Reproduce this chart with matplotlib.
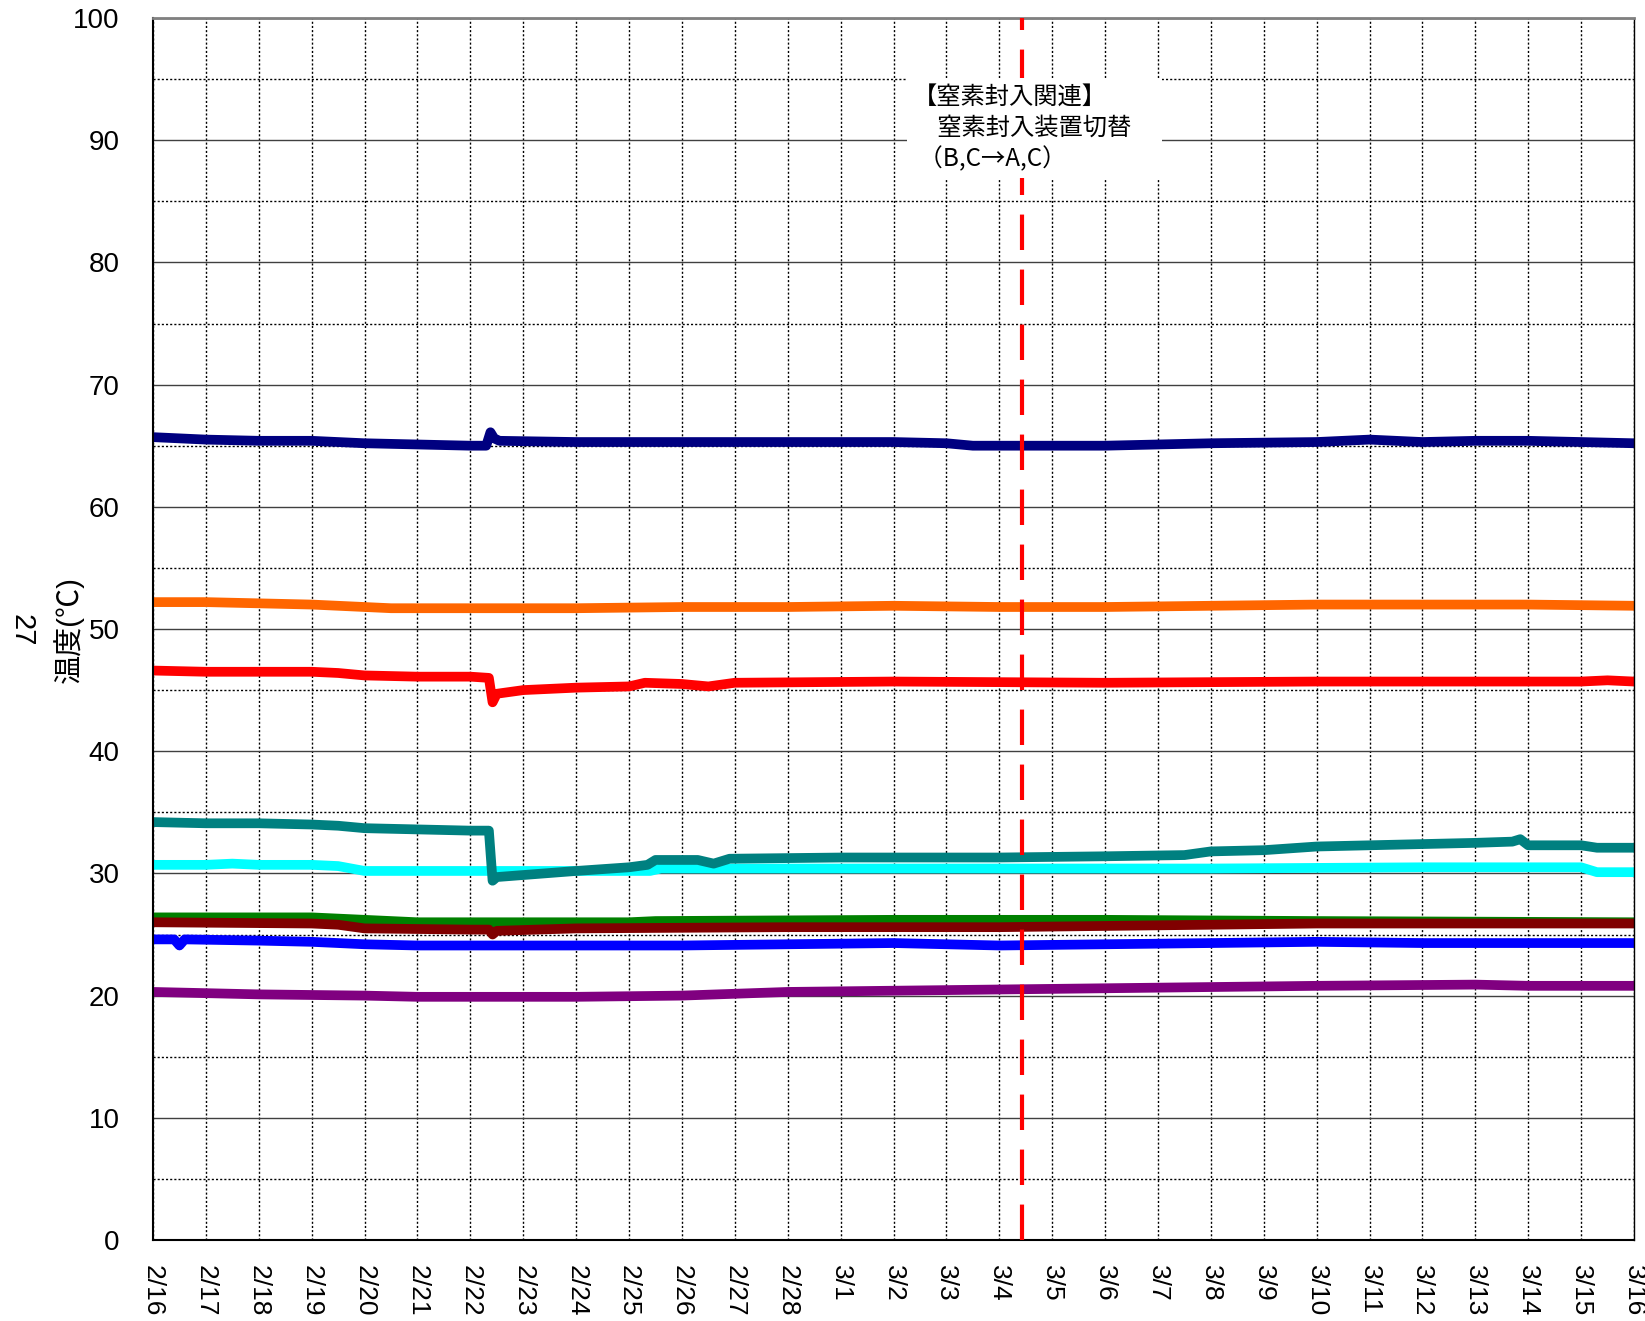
import matplotlib
matplotlib.use('Agg')
import matplotlib.pyplot as plt

plt.rcParams['font.family'] = ['Liberation Sans', 'Noto Sans CJK JP']

# x = days since 2/16
day_labels = ['2/16', '2/17', '2/18', '2/19', '2/20', '2/21', '2/22', '2/23', '2/24',
              '2/25', '2/26', '2/27', '2/28', '3/1', '3/2', '3/3', '3/4', '3/5', '3/6',
              '3/7', '3/8', '3/9', '3/10', '3/11', '3/12', '3/13', '3/14', '3/15', '3/16']

navy_x = [0, 1, 2, 3, 4, 5, 6, 6.3, 6.38, 6.45, 6.55, 8, 10, 12, 14, 15, 15.5, 17, 18, 20, 22, 23, 24, 25, 26, 27, 28]
navy_y = [65.7, 65.5, 65.4, 65.4, 65.2, 65.1, 65.0, 65.0, 66.1, 65.6, 65.4, 65.3, 65.3, 65.3, 65.3, 65.2,
          65.0, 65.0, 65.0, 65.2, 65.3, 65.5, 65.3, 65.4, 65.4, 65.3, 65.2]

orange_x = [0, 1, 2, 3, 4, 4.5, 6, 8, 10, 12, 14, 16, 18, 20, 22, 24, 26, 28]
orange_y = [52.2, 52.2, 52.1, 52.0, 51.8, 51.7, 51.7, 51.7, 51.8, 51.8, 51.9, 51.8, 51.8, 51.9, 52.0, 52.0, 52.0, 51.9]

red_x = [0, 1, 2, 3, 3.5, 4, 5, 6, 6.35, 6.42, 6.5, 7, 8, 9, 9.3, 10, 10.5, 11, 14, 18, 22, 26, 27, 27.5, 28]
red_y = [46.6, 46.5, 46.5, 46.5, 46.4, 46.2, 46.1, 46.1, 46.0, 44.0, 44.7, 45.0, 45.2, 45.3, 45.6, 45.5,
         45.3, 45.6, 45.7, 45.6, 45.7, 45.7, 45.7, 45.8, 45.7]

teal_x = [0, 1, 2, 3, 3.5, 4, 5, 6, 6.35, 6.42, 6.5, 8, 9, 9.35, 9.5, 10.3, 10.6, 10.9, 13, 16, 18, 19.5,
          20, 21, 22, 23, 25, 25.7, 25.85, 26, 27, 27.3, 28]
teal_y = [34.2, 34.1, 34.1, 34.0, 33.9, 33.7, 33.6, 33.5, 33.5, 29.4, 29.7, 30.2, 30.5, 30.7, 31.1, 31.1,
          30.8, 31.2, 31.3, 31.3, 31.4, 31.5, 31.8, 31.9, 32.2, 32.3, 32.5, 32.6, 32.8, 32.3, 32.3, 32.1, 32.1]

cyan_x = [0, 1, 1.5, 2, 3, 3.5, 4, 5, 6, 8, 9.4, 9.6, 12, 16, 20, 24, 26, 27, 27.3, 28]
cyan_y = [30.7, 30.7, 30.8, 30.7, 30.7, 30.6, 30.2, 30.2, 30.2, 30.2, 30.2, 30.4, 30.4, 30.4, 30.4,
          30.5, 30.5, 30.5, 30.1, 30.1]

green_x = [0, 3, 4, 5, 9, 9.5, 14, 18, 22, 28]
green_y = [26.4, 26.4, 26.2, 26.0, 26.0, 26.1, 26.2, 26.2, 26.1, 26.0]

maroon_x = [0, 3, 3.5, 4, 6, 6.35, 6.42, 6.5, 8, 12, 16, 18, 20, 22, 28]
maroon_y = [26.0, 25.9, 25.8, 25.5, 25.4, 25.4, 25.0, 25.3, 25.5, 25.6, 25.6, 25.7, 25.8, 25.9, 25.9]

blue_x = [0, 0.4, 0.5, 0.6, 2, 3, 4, 5, 8, 10, 12, 14, 16, 18, 20, 22, 24, 28]
blue_y = [24.6, 24.6, 24.1, 24.6, 24.5, 24.4, 24.2, 24.1, 24.1, 24.1, 24.2, 24.3, 24.1, 24.2, 24.3, 24.4, 24.3, 24.3]

purple_x = [0, 2, 4, 5, 8, 10, 12, 16, 18, 20, 22, 25, 26, 28]
purple_y = [20.3, 20.1, 20.0, 19.9, 19.9, 20.0, 20.3, 20.5, 20.6, 20.7, 20.8, 20.9, 20.8, 20.8]

event_day = 16.42
event_text = '【窒素封入関連】\n　窒素封入装置切替　\n （B,C→A,C）'

fig = plt.figure(figsize=(16.45, 13.21), dpi=100)
ax = fig.add_axes([153/1645, 81/1321, 1481/1645, 1222/1321])

lw = 7
style = dict(lw=lw, solid_joinstyle='round', solid_capstyle='round')
ax.plot(purple_x, purple_y, color='#800080', **style)
ax.plot(blue_x, blue_y, color='#0000ff', **style)
ax.plot(green_x, green_y, color='#008000', **style)
ax.plot(maroon_x, maroon_y, color='#800000', **style)
ax.plot(cyan_x, cyan_y, color='#00ffff', **style)
ax.plot(teal_x, teal_y, color='#008080', **style)
ax.plot(red_x, red_y, color='#ff0000', **style)
ax.plot(orange_x, orange_y, color='#ff6600', **style)
ax.plot(navy_x, navy_y, color='#000080', **style)

ax.axvline(event_day, color='red', lw=3, ls=(0, (8.5, 4.7)), zorder=4)
ax.text(14.37, 94.6, event_text, family=['Noto Sans CJK JP'], fontsize=17.5, va='top', ha='left',
        linespacing=1.25, zorder=5,
        bbox=dict(boxstyle='square,pad=0.25', fc='white', ec='none'))

ax.set_xlim(0, 28)
ax.set_ylim(0, 100)
ax.set_xticks(range(29))
ax.set_xticklabels(day_labels, rotation=270, fontsize=19)
ax.set_yticks(range(0, 101, 10))
ax.set_yticks(range(5, 100, 10), minor=True)
ax.tick_params(axis='y', which='both', length=0, pad=24, labelsize=20)
ax.tick_params(axis='x', which='both', length=0, pad=18)

ax.grid(axis='y', which='major', color='#404040', lw=1, ls='-')
ax.grid(axis='y', which='minor', color='black', lw=1, ls=(0, (1.5, 1.5)))
ax.grid(axis='x', which='major', color='black', lw=1, ls=(0, (1.5, 1.5)))
ax.set_axisbelow(True)

ax.spines['top'].set_color('#808080')
ax.spines['top'].set_linewidth(2)
ax.spines['left'].set_linewidth(1.5)
ax.spines['bottom'].set_linewidth(1.5)
ax.spines['right'].set_linewidth(1)

fig.text(68/1645, 1 - 630/1321, '温度(℃)', rotation=90, fontsize=21, ha='center', va='center')
fig.text(21/1645, 1 - 630/1321, '27', rotation=270, fontsize=21, ha='center', va='center')

fig.savefig('out.png', dpi=100)
